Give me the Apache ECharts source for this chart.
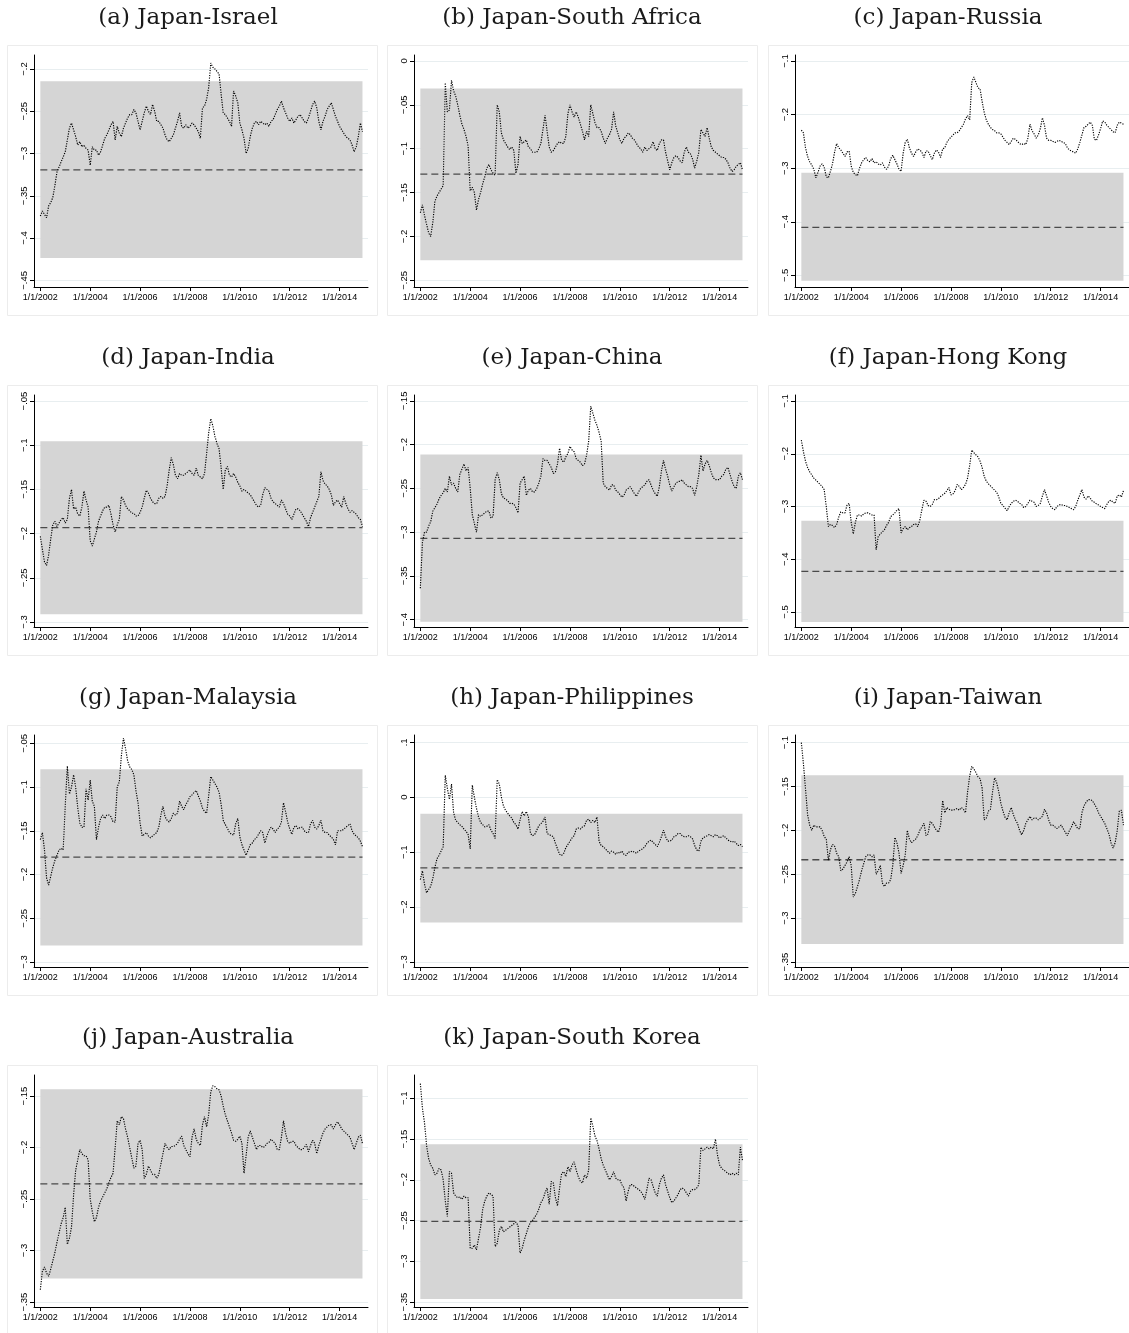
<!DOCTYPE html>
<html>
<head>
<meta charset="utf-8">
<title>Japan exchange rate pairs</title>
<script src="https://cdn.jsdelivr.net/npm/echarts@6/dist/echarts.min.js"></script>
<style>
  html, body { margin: 0; padding: 0; background: #fff; }
  #chart { width: 1129px; height: 1333px; }
</style>
</head>
<body>
<div id="chart"></div>
<script>
// monthly observations, Jan 2002 .. Dec 2014
var firstYear = 2002;
var xTicks = [2002, 2004, 2006, 2008, 2010, 2012, 2014];

var panelTitles = [
  '(a) Japan-Israel', '(b) Japan-South Africa', '(c) Japan-Russia',
  '(d) Japan-India', '(e) Japan-China', '(f) Japan-Hong Kong',
  '(g) Japan-Malaysia', '(h) Japan-Philippines', '(i) Japan-Taiwan',
  '(j) Japan-Australia', '(k) Japan-South Korea'
];

var jpIsrael = [
  -0.374,-0.368,-0.372,-0.376,-0.362,-0.358,-0.352,-0.338,-0.322,-0.316,-0.310,-0.304,
  -0.298,-0.284,-0.270,-0.264,-0.272,-0.280,-0.290,-0.286,-0.292,-0.290,-0.294,-0.296,
  -0.314,-0.292,-0.296,-0.296,-0.302,-0.298,-0.290,-0.282,-0.278,-0.272,-0.266,-0.262,
  -0.284,-0.268,-0.276,-0.280,-0.270,-0.264,-0.258,-0.254,-0.254,-0.248,-0.252,-0.262,
  -0.272,-0.262,-0.252,-0.244,-0.250,-0.254,-0.242,-0.250,-0.262,-0.262,-0.266,-0.270,
  -0.278,-0.284,-0.286,-0.282,-0.278,-0.270,-0.262,-0.252,-0.268,-0.270,-0.266,-0.270,
  -0.268,-0.264,-0.266,-0.270,-0.274,-0.282,-0.246,-0.244,-0.236,-0.222,-0.193,-0.198,
  -0.200,-0.203,-0.206,-0.230,-0.252,-0.254,-0.258,-0.262,-0.268,-0.226,-0.232,-0.240,
  -0.264,-0.272,-0.282,-0.300,-0.294,-0.280,-0.270,-0.264,-0.262,-0.266,-0.262,-0.264,
  -0.266,-0.264,-0.268,-0.262,-0.260,-0.254,-0.248,-0.244,-0.238,-0.246,-0.252,-0.258,
  -0.262,-0.258,-0.264,-0.260,-0.256,-0.254,-0.258,-0.262,-0.264,-0.258,-0.250,-0.242,
  -0.238,-0.246,-0.262,-0.272,-0.262,-0.256,-0.248,-0.244,-0.240,-0.248,-0.256,-0.262,
  -0.268,-0.272,-0.276,-0.280,-0.282,-0.284,-0.290,-0.298,-0.292,-0.280,-0.264,-0.274
];
var jpSouthAfrica = [
  -0.173,-0.164,-0.176,-0.186,-0.196,-0.200,-0.184,-0.160,-0.154,-0.150,-0.146,-0.142,
  -0.025,-0.058,-0.056,-0.022,-0.034,-0.040,-0.050,-0.062,-0.072,-0.078,-0.086,-0.097,
  -0.148,-0.144,-0.150,-0.170,-0.158,-0.150,-0.140,-0.132,-0.122,-0.118,-0.124,-0.128,
  -0.130,-0.050,-0.058,-0.082,-0.090,-0.094,-0.098,-0.101,-0.098,-0.102,-0.128,-0.118,
  -0.086,-0.094,-0.092,-0.090,-0.098,-0.100,-0.104,-0.104,-0.104,-0.100,-0.094,-0.078,
  -0.062,-0.080,-0.098,-0.104,-0.102,-0.098,-0.094,-0.092,-0.094,-0.094,-0.086,-0.060,
  -0.050,-0.058,-0.064,-0.058,-0.064,-0.072,-0.080,-0.090,-0.080,-0.086,-0.050,-0.060,
  -0.070,-0.076,-0.076,-0.080,-0.088,-0.094,-0.088,-0.084,-0.078,-0.058,-0.074,-0.082,
  -0.090,-0.094,-0.088,-0.086,-0.082,-0.084,-0.088,-0.090,-0.094,-0.098,-0.100,-0.104,
  -0.098,-0.102,-0.100,-0.098,-0.092,-0.100,-0.102,-0.094,-0.090,-0.090,-0.104,-0.114,
  -0.124,-0.116,-0.110,-0.108,-0.110,-0.114,-0.116,-0.104,-0.098,-0.104,-0.106,-0.112,
  -0.122,-0.114,-0.104,-0.078,-0.082,-0.086,-0.076,-0.088,-0.098,-0.102,-0.104,-0.106,
  -0.108,-0.110,-0.110,-0.112,-0.116,-0.122,-0.126,-0.124,-0.120,-0.118,-0.116,-0.124
];
var jpRussia = [
  -0.229,-0.234,-0.262,-0.278,-0.288,-0.294,-0.302,-0.318,-0.308,-0.296,-0.292,-0.298,
  -0.316,-0.318,-0.306,-0.292,-0.270,-0.254,-0.262,-0.266,-0.272,-0.278,-0.270,-0.268,
  -0.296,-0.308,-0.312,-0.314,-0.300,-0.290,-0.284,-0.280,-0.286,-0.288,-0.282,-0.290,
  -0.288,-0.292,-0.294,-0.290,-0.298,-0.302,-0.296,-0.282,-0.276,-0.284,-0.292,-0.302,
  -0.306,-0.272,-0.252,-0.246,-0.262,-0.272,-0.278,-0.270,-0.264,-0.266,-0.270,-0.280,
  -0.268,-0.268,-0.276,-0.284,-0.272,-0.266,-0.270,-0.280,-0.264,-0.262,-0.252,-0.246,
  -0.242,-0.238,-0.234,-0.234,-0.230,-0.224,-0.218,-0.208,-0.202,-0.210,-0.140,-0.130,
  -0.140,-0.150,-0.152,-0.176,-0.196,-0.210,-0.218,-0.224,-0.228,-0.230,-0.234,-0.234,
  -0.236,-0.242,-0.248,-0.252,-0.256,-0.250,-0.244,-0.246,-0.250,-0.254,-0.256,-0.254,
  -0.256,-0.244,-0.218,-0.230,-0.236,-0.244,-0.238,-0.226,-0.206,-0.220,-0.244,-0.248,
  -0.248,-0.250,-0.252,-0.250,-0.248,-0.250,-0.252,-0.254,-0.262,-0.266,-0.268,-0.270,
  -0.272,-0.264,-0.252,-0.238,-0.224,-0.222,-0.218,-0.214,-0.220,-0.246,-0.248,-0.238,
  -0.226,-0.212,-0.214,-0.220,-0.224,-0.228,-0.232,-0.234,-0.220,-0.214,-0.216,-0.218
];
var jpIndia = [
  -0.203,-0.218,-0.232,-0.236,-0.224,-0.206,-0.190,-0.186,-0.192,-0.188,-0.184,-0.182,
  -0.188,-0.184,-0.160,-0.150,-0.172,-0.170,-0.178,-0.180,-0.170,-0.152,-0.162,-0.170,
  -0.208,-0.214,-0.206,-0.198,-0.186,-0.180,-0.174,-0.170,-0.170,-0.168,-0.178,-0.190,
  -0.198,-0.190,-0.184,-0.158,-0.162,-0.168,-0.172,-0.174,-0.177,-0.177,-0.180,-0.180,
  -0.176,-0.170,-0.160,-0.151,-0.154,-0.160,-0.164,-0.166,-0.166,-0.160,-0.158,-0.160,
  -0.158,-0.146,-0.128,-0.114,-0.122,-0.134,-0.138,-0.132,-0.134,-0.134,-0.132,-0.130,
  -0.128,-0.132,-0.134,-0.126,-0.134,-0.136,-0.138,-0.132,-0.110,-0.086,-0.070,-0.078,
  -0.090,-0.098,-0.104,-0.126,-0.150,-0.128,-0.124,-0.134,-0.136,-0.132,-0.136,-0.142,
  -0.146,-0.152,-0.150,-0.152,-0.154,-0.156,-0.160,-0.164,-0.168,-0.170,-0.168,-0.156,
  -0.148,-0.150,-0.152,-0.160,-0.164,-0.166,-0.168,-0.170,-0.162,-0.166,-0.172,-0.178,
  -0.180,-0.184,-0.178,-0.172,-0.172,-0.174,-0.178,-0.182,-0.186,-0.192,-0.182,-0.176,
  -0.170,-0.164,-0.158,-0.130,-0.140,-0.144,-0.146,-0.150,-0.156,-0.168,-0.164,-0.162,
  -0.166,-0.170,-0.158,-0.166,-0.172,-0.176,-0.174,-0.176,-0.178,-0.182,-0.184,-0.192
];
var jpChina = [
  -0.364,-0.312,-0.300,-0.300,-0.293,-0.288,-0.276,-0.272,-0.268,-0.262,-0.258,-0.255,
  -0.250,-0.254,-0.236,-0.246,-0.244,-0.250,-0.254,-0.234,-0.228,-0.222,-0.230,-0.226,
  -0.250,-0.280,-0.290,-0.300,-0.280,-0.282,-0.280,-0.278,-0.276,-0.276,-0.284,-0.282,
  -0.240,-0.232,-0.240,-0.256,-0.261,-0.262,-0.264,-0.267,-0.267,-0.268,-0.272,-0.278,
  -0.244,-0.240,-0.236,-0.258,-0.252,-0.250,-0.254,-0.254,-0.250,-0.244,-0.236,-0.216,
  -0.218,-0.218,-0.222,-0.226,-0.233,-0.231,-0.222,-0.204,-0.218,-0.220,-0.214,-0.210,
  -0.202,-0.206,-0.208,-0.216,-0.218,-0.220,-0.224,-0.222,-0.212,-0.196,-0.156,-0.164,
  -0.172,-0.178,-0.186,-0.196,-0.244,-0.248,-0.250,-0.252,-0.246,-0.246,-0.252,-0.254,
  -0.257,-0.260,-0.258,-0.252,-0.250,-0.248,-0.252,-0.256,-0.259,-0.254,-0.250,-0.248,
  -0.246,-0.242,-0.240,-0.246,-0.252,-0.256,-0.259,-0.248,-0.230,-0.218,-0.228,-0.236,
  -0.246,-0.253,-0.248,-0.244,-0.242,-0.242,-0.240,-0.244,-0.246,-0.248,-0.248,-0.250,
  -0.258,-0.248,-0.234,-0.212,-0.230,-0.222,-0.218,-0.224,-0.232,-0.238,-0.240,-0.240,
  -0.240,-0.236,-0.234,-0.228,-0.226,-0.234,-0.242,-0.248,-0.250,-0.236,-0.232,-0.240
];
var jpHongKong = [
  -0.174,-0.196,-0.214,-0.226,-0.234,-0.240,-0.246,-0.250,-0.254,-0.258,-0.262,-0.268,
  -0.300,-0.338,-0.334,-0.336,-0.340,-0.334,-0.320,-0.310,-0.312,-0.312,-0.297,-0.294,
  -0.330,-0.352,-0.330,-0.316,-0.316,-0.318,-0.314,-0.312,-0.312,-0.314,-0.316,-0.316,
  -0.382,-0.357,-0.352,-0.348,-0.344,-0.336,-0.330,-0.319,-0.316,-0.312,-0.307,-0.304,
  -0.350,-0.342,-0.338,-0.344,-0.340,-0.338,-0.334,-0.333,-0.338,-0.326,-0.306,-0.288,
  -0.290,-0.298,-0.300,-0.296,-0.287,-0.287,-0.285,-0.281,-0.278,-0.275,-0.270,-0.264,
  -0.278,-0.276,-0.270,-0.258,-0.262,-0.268,-0.264,-0.258,-0.246,-0.222,-0.193,-0.198,
  -0.202,-0.206,-0.214,-0.226,-0.243,-0.252,-0.257,-0.261,-0.265,-0.269,-0.273,-0.282,
  -0.294,-0.298,-0.303,-0.308,-0.300,-0.294,-0.290,-0.288,-0.290,-0.294,-0.296,-0.302,
  -0.300,-0.294,-0.288,-0.290,-0.292,-0.300,-0.298,-0.294,-0.280,-0.268,-0.280,-0.292,
  -0.300,-0.304,-0.306,-0.300,-0.297,-0.296,-0.298,-0.298,-0.300,-0.302,-0.304,-0.306,
  -0.300,-0.288,-0.278,-0.268,-0.282,-0.286,-0.280,-0.284,-0.290,-0.292,-0.295,-0.297,
  -0.300,-0.302,-0.304,-0.296,-0.290,-0.288,-0.292,-0.294,-0.280,-0.278,-0.282,-0.270
];
var jpMalaysia = [
  -0.160,-0.152,-0.172,-0.204,-0.212,-0.202,-0.192,-0.184,-0.178,-0.172,-0.170,-0.172,
  -0.120,-0.076,-0.108,-0.100,-0.086,-0.100,-0.124,-0.141,-0.146,-0.146,-0.102,-0.115,
  -0.092,-0.116,-0.122,-0.160,-0.146,-0.136,-0.132,-0.136,-0.132,-0.132,-0.134,-0.140,
  -0.140,-0.100,-0.094,-0.064,-0.044,-0.056,-0.070,-0.077,-0.080,-0.086,-0.104,-0.118,
  -0.141,-0.156,-0.154,-0.152,-0.156,-0.158,-0.156,-0.154,-0.152,-0.146,-0.132,-0.122,
  -0.134,-0.138,-0.140,-0.136,-0.130,-0.132,-0.130,-0.116,-0.122,-0.126,-0.120,-0.116,
  -0.111,-0.109,-0.106,-0.104,-0.110,-0.116,-0.124,-0.128,-0.130,-0.110,-0.088,-0.092,
  -0.096,-0.100,-0.106,-0.120,-0.138,-0.143,-0.147,-0.152,-0.154,-0.155,-0.142,-0.136,
  -0.157,-0.166,-0.172,-0.178,-0.172,-0.166,-0.164,-0.160,-0.158,-0.154,-0.150,-0.152,
  -0.164,-0.156,-0.150,-0.146,-0.148,-0.152,-0.148,-0.146,-0.140,-0.118,-0.128,-0.140,
  -0.148,-0.154,-0.146,-0.144,-0.148,-0.146,-0.146,-0.150,-0.152,-0.152,-0.142,-0.138,
  -0.146,-0.148,-0.144,-0.138,-0.150,-0.152,-0.152,-0.155,-0.157,-0.160,-0.166,-0.150,
  -0.150,-0.150,-0.148,-0.146,-0.144,-0.142,-0.150,-0.154,-0.156,-0.158,-0.162,-0.168
];
var jpPhilippines = [
  -0.150,-0.134,-0.158,-0.174,-0.168,-0.162,-0.148,-0.128,-0.112,-0.106,-0.098,-0.090,
  0.040,0.016,-0.004,0.024,-0.028,-0.042,-0.046,-0.050,-0.053,-0.058,-0.062,-0.068,
  -0.094,0.022,0.000,-0.020,-0.036,-0.046,-0.050,-0.054,-0.053,-0.050,-0.060,-0.066,
  -0.075,0.032,0.024,0.000,-0.016,-0.024,-0.029,-0.034,-0.038,-0.046,-0.050,-0.058,
  -0.041,-0.026,-0.034,-0.026,-0.036,-0.066,-0.070,-0.068,-0.060,-0.052,-0.048,-0.044,
  -0.036,-0.066,-0.068,-0.070,-0.072,-0.084,-0.094,-0.104,-0.106,-0.102,-0.092,-0.086,
  -0.080,-0.074,-0.070,-0.058,-0.056,-0.058,-0.054,-0.052,-0.042,-0.040,-0.046,-0.042,
  -0.046,-0.036,-0.080,-0.088,-0.090,-0.094,-0.098,-0.102,-0.098,-0.100,-0.104,-0.100,
  -0.102,-0.098,-0.104,-0.106,-0.100,-0.100,-0.098,-0.100,-0.102,-0.098,-0.096,-0.094,
  -0.090,-0.084,-0.080,-0.078,-0.082,-0.086,-0.090,-0.082,-0.072,-0.060,-0.072,-0.080,
  -0.080,-0.078,-0.072,-0.070,-0.066,-0.066,-0.070,-0.072,-0.072,-0.070,-0.072,-0.076,
  -0.088,-0.096,-0.098,-0.080,-0.074,-0.072,-0.070,-0.068,-0.070,-0.072,-0.068,-0.070,
  -0.074,-0.072,-0.070,-0.074,-0.078,-0.080,-0.082,-0.080,-0.084,-0.088,-0.086,-0.090
];
var jpTaiwan = [
  -0.100,-0.124,-0.152,-0.182,-0.194,-0.200,-0.194,-0.196,-0.196,-0.196,-0.200,-0.207,
  -0.210,-0.234,-0.222,-0.216,-0.218,-0.226,-0.230,-0.246,-0.244,-0.240,-0.236,-0.230,
  -0.240,-0.276,-0.272,-0.264,-0.256,-0.246,-0.238,-0.230,-0.228,-0.228,-0.230,-0.228,
  -0.250,-0.246,-0.240,-0.260,-0.264,-0.260,-0.260,-0.256,-0.240,-0.208,-0.214,-0.226,
  -0.249,-0.240,-0.228,-0.200,-0.210,-0.214,-0.212,-0.210,-0.206,-0.200,-0.196,-0.192,
  -0.206,-0.204,-0.190,-0.192,-0.196,-0.200,-0.202,-0.194,-0.166,-0.180,-0.174,-0.176,
  -0.177,-0.177,-0.176,-0.175,-0.177,-0.174,-0.176,-0.180,-0.156,-0.138,-0.127,-0.130,
  -0.134,-0.139,-0.141,-0.152,-0.188,-0.186,-0.178,-0.176,-0.156,-0.140,-0.146,-0.156,
  -0.169,-0.178,-0.185,-0.188,-0.180,-0.174,-0.182,-0.188,-0.192,-0.200,-0.205,-0.200,
  -0.192,-0.188,-0.184,-0.188,-0.186,-0.186,-0.188,-0.186,-0.184,-0.176,-0.180,-0.188,
  -0.194,-0.194,-0.196,-0.198,-0.196,-0.194,-0.198,-0.202,-0.206,-0.200,-0.196,-0.190,
  -0.194,-0.198,-0.198,-0.180,-0.172,-0.168,-0.165,-0.165,-0.166,-0.170,-0.174,-0.180,
  -0.184,-0.188,-0.192,-0.198,-0.204,-0.214,-0.220,-0.214,-0.200,-0.178,-0.177,-0.194
];
var jpAustralia = [
  -0.338,-0.320,-0.316,-0.322,-0.325,-0.318,-0.310,-0.302,-0.292,-0.283,-0.274,-0.268,
  -0.258,-0.294,-0.288,-0.277,-0.246,-0.222,-0.212,-0.202,-0.206,-0.208,-0.208,-0.212,
  -0.250,-0.262,-0.272,-0.268,-0.258,-0.252,-0.248,-0.244,-0.240,-0.234,-0.229,-0.225,
  -0.200,-0.174,-0.178,-0.170,-0.172,-0.182,-0.190,-0.200,-0.210,-0.220,-0.218,-0.196,
  -0.193,-0.202,-0.230,-0.226,-0.218,-0.222,-0.226,-0.226,-0.230,-0.226,-0.216,-0.206,
  -0.196,-0.200,-0.202,-0.199,-0.199,-0.198,-0.196,-0.192,-0.189,-0.198,-0.202,-0.206,
  -0.209,-0.190,-0.182,-0.192,-0.196,-0.198,-0.178,-0.170,-0.180,-0.168,-0.146,-0.140,
  -0.141,-0.143,-0.144,-0.150,-0.160,-0.168,-0.174,-0.180,-0.186,-0.193,-0.194,-0.192,
  -0.189,-0.196,-0.225,-0.208,-0.190,-0.184,-0.190,-0.196,-0.202,-0.198,-0.198,-0.200,
  -0.199,-0.196,-0.195,-0.192,-0.194,-0.196,-0.202,-0.202,-0.190,-0.174,-0.186,-0.194,
  -0.196,-0.194,-0.194,-0.198,-0.200,-0.202,-0.202,-0.200,-0.197,-0.204,-0.198,-0.193,
  -0.196,-0.206,-0.198,-0.192,-0.186,-0.182,-0.180,-0.178,-0.178,-0.182,-0.178,-0.175,
  -0.178,-0.182,-0.184,-0.186,-0.188,-0.190,-0.196,-0.202,-0.196,-0.190,-0.188,-0.196
];
var jpSouthKorea = [
  -0.082,-0.112,-0.130,-0.158,-0.174,-0.182,-0.186,-0.194,-0.192,-0.186,-0.188,-0.200,
  -0.226,-0.245,-0.190,-0.192,-0.216,-0.220,-0.222,-0.221,-0.224,-0.220,-0.222,-0.222,
  -0.284,-0.284,-0.280,-0.286,-0.272,-0.258,-0.236,-0.226,-0.220,-0.216,-0.218,-0.220,
  -0.282,-0.278,-0.262,-0.257,-0.264,-0.262,-0.260,-0.258,-0.256,-0.254,-0.252,-0.256,
  -0.290,-0.284,-0.274,-0.266,-0.258,-0.252,-0.250,-0.246,-0.242,-0.236,-0.228,-0.224,
  -0.216,-0.210,-0.230,-0.202,-0.204,-0.222,-0.232,-0.210,-0.192,-0.190,-0.196,-0.184,
  -0.190,-0.182,-0.178,-0.188,-0.196,-0.202,-0.204,-0.194,-0.198,-0.188,-0.124,-0.134,
  -0.146,-0.152,-0.162,-0.174,-0.182,-0.188,-0.194,-0.200,-0.196,-0.190,-0.198,-0.200,
  -0.200,-0.206,-0.210,-0.226,-0.214,-0.206,-0.206,-0.208,-0.210,-0.212,-0.214,-0.218,
  -0.224,-0.212,-0.198,-0.200,-0.208,-0.216,-0.220,-0.206,-0.198,-0.194,-0.206,-0.214,
  -0.222,-0.228,-0.226,-0.222,-0.218,-0.212,-0.210,-0.212,-0.216,-0.220,-0.214,-0.212,
  -0.212,-0.210,-0.206,-0.160,-0.164,-0.162,-0.160,-0.162,-0.160,-0.162,-0.150,-0.170,
  -0.182,-0.186,-0.188,-0.190,-0.192,-0.194,-0.192,-0.194,-0.192,-0.194,-0.160,-0.176
];

// confidence band and its mean, one entry per panel
var bandLower = [-0.4236, -0.2272, -0.5100, -0.2913, -0.4023, -0.5189, -0.2810, -0.2279, -0.3295, -0.3271, -0.3463];
var bandUpper = [-0.2146, -0.0315, -0.3087, -0.0956, -0.2113, -0.3271, -0.0797, -0.0303, -0.1372, -0.1435, -0.1564];
var bandMean  = [-0.3193, -0.1290, -0.4106, -0.1931, -0.3072, -0.4230, -0.1801, -0.1285, -0.2335, -0.2353, -0.2511];

var yTickValues = [
  [-0.45, -0.4, -0.35, -0.3, -0.25, -0.2],
  [-0.25, -0.2, -0.15, -0.1, -0.05, 0],
  [-0.5, -0.4, -0.3, -0.2, -0.1],
  [-0.3, -0.25, -0.2, -0.15, -0.1, -0.05],
  [-0.4, -0.35, -0.3, -0.25, -0.2, -0.15],
  [-0.5, -0.4, -0.3, -0.2, -0.1],
  [-0.3, -0.25, -0.2, -0.15, -0.1, -0.05],
  [-0.3, -0.2, -0.1, 0, 0.1],
  [-0.35, -0.3, -0.25, -0.2, -0.15, -0.1],
  [-0.35, -0.3, -0.25, -0.2, -0.15],
  [-0.35, -0.3, -0.25, -0.2, -0.15, -0.1]
];
var yAxisMin = [-0.4579, -0.2576, -0.5217, -0.3056, -0.4084, -0.5284, -0.3057, -0.3091, -0.3557, -0.3548, -0.3561];
var yAxisMax = [-0.1835, 0.0068, -0.0888, -0.0432, -0.1432, -0.0886, -0.0405, 0.1133, -0.0913, -0.1296, -0.0714];
var xAxisMin = 2001.746, xAxisMax = 2015.138;

var allSeries = [jpIsrael, jpSouthAfrica, jpRussia, jpIndia, jpChina, jpHongKong,
  jpMalaysia, jpPhilippines, jpTaiwan, jpAustralia, jpSouthKorea];

// stata style tick labels: -.25, .1, 0
function stataNum(v) {
  if (Math.abs(v) < 1e-9) return '0';
  var s = Math.abs(v).toFixed(2).replace(/0+$/, '').replace(/^0/, '');
  return (v < 0 ? '\u2212' : '') + s;
}

var colX = [0, 380, 761];
var rowY = [0, 340, 680, 1020];
var titleX = [188, 572, 948];

var chart = echarts.init(document.getElementById('chart'));
var grids = [], xAxes = [], yAxes = [], series = [], graphics = [];
var tickFont = "'Liberation Sans Narrow', 'Liberation Sans', Arial, sans-serif";

allSeries.forEach(function (vals, k) {
  var c = k % 3, r = Math.floor(k / 3);
  var dx = colX[c], dy = rowY[r];
  var pts = vals.map(function (v, i) { return [firstYear + i / 12, v]; });
  var x0 = pts[0][0], x1 = pts[pts.length - 1][0];

  graphics.push({
    type: 'rect', silent: true, z: -10,
    shape: { x: 7.5 + dx, y: 45.5 + dy, width: 370, height: 270 },
    style: { fill: 'none', stroke: '#ececec', lineWidth: 1 }
  });
  graphics.push({
    type: 'text', silent: true,
    x: titleX[c], y: 18 + dy,
    style: {
      text: panelTitles[k], fill: '#1a1a1a',
      font: "23px 'DejaVu Serif', 'Liberation Serif', serif",
      align: 'center', verticalAlign: 'middle'
    }
  });

  grids.push({ left: 34 + dx, top: 55 + dy, width: 334, height: 232 });

  xAxes.push({
    gridIndex: k, type: 'value', min: xAxisMin, max: xAxisMax,
    axisLine: { show: true, onZero: false, lineStyle: { color: '#000', width: 1 } },
    axisTick: { show: true, length: 4, customValues: xTicks, lineStyle: { color: '#000' } },
    axisLabel: {
      customValues: xTicks, margin: 6, fontSize: 9, color: '#000', fontFamily: tickFont,
      formatter: function (v) { return '1/1/' + Math.round(v); }
    },
    splitLine: { show: false }
  });

  yAxes.push({
    gridIndex: k, type: 'value', min: yAxisMin[k], max: yAxisMax[k],
    axisLine: { show: true, onZero: false, lineStyle: { color: '#000', width: 1 } },
    axisTick: { show: true, length: 4, customValues: yTickValues[k], lineStyle: { color: '#000' } },
    axisLabel: {
      customValues: yTickValues[k], rotate: 90, margin: 5, fontSize: 9.5, color: '#000',
      fontFamily: tickFont,
      formatter: stataNum
    },
    splitLine: { show: true, lineStyle: { color: '#e8eef0', width: 1 } }
  });

  // band + mean line
  series.push({
    type: 'line', xAxisIndex: k, yAxisIndex: k, z: 1,
    data: [[x0, bandMean[k]], [x1, bandMean[k]]],
    symbol: 'none', silent: true,
    lineStyle: { color: '#4a4a4a', width: 1.3, type: [7, 4] },
    markArea: {
      silent: true,
      itemStyle: { color: '#d5d5d5' },
      data: [[{ coord: [x0, bandLower[k]] }, { coord: [x1, bandUpper[k]] }]]
    }
  });
  // dotted observed series
  series.push({
    type: 'line', xAxisIndex: k, yAxisIndex: k, z: 3,
    data: pts, symbol: 'none', silent: true,
    lineStyle: { color: '#000', width: 1.15, type: [1.2, 1.3] }
  });
});

chart.setOption({
  animation: false,
  backgroundColor: '#fff',
  grid: grids,
  xAxis: xAxes,
  yAxis: yAxes,
  series: series,
  graphic: { elements: graphics }
});
</script>
</body>
</html>
